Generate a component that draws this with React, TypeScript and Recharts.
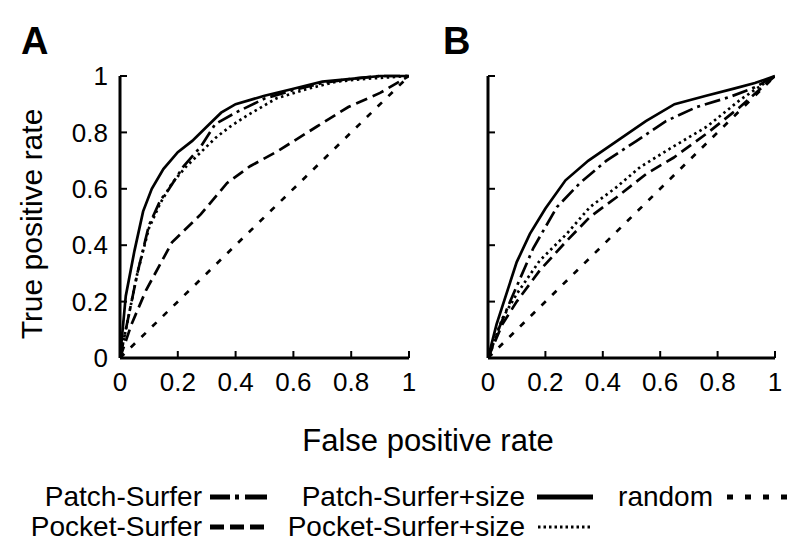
import React from "react";
import { LineChart, Line, XAxis, YAxis } from "recharts";

// ---------- data ----------
const ticks = [0, 0.2, 0.4, 0.6, 0.8, 1];
const tickLabels = ["0", "0.2", "0.4", "0.6", "0.8", "1"];

// Panel A
const aPatchFpr = [0, 0.03, 0.06, 0.1, 0.14, 0.17, 0.22, 0.28, 0.33, 0.4, 0.5, 0.6, 0.7, 0.8, 0.9, 1];
const aPatchTpr = [0, 0.15, 0.3, 0.47, 0.56, 0.6, 0.68, 0.75, 0.83, 0.87, 0.92, 0.95, 0.975, 0.99, 1, 1];
const aPatchSizeFpr = [0, 0.02, 0.05, 0.08, 0.11, 0.15, 0.2, 0.25, 0.3, 0.35, 0.4, 0.5, 0.6, 0.7, 0.8, 0.9, 1];
const aPatchSizeTpr = [0, 0.22, 0.38, 0.52, 0.6, 0.67, 0.73, 0.77, 0.82, 0.87, 0.9, 0.93, 0.955, 0.98, 0.99, 1, 1];
const aPocketFpr = [0, 0.04, 0.09, 0.18, 0.28, 0.37, 0.45, 0.54, 0.68, 0.79, 0.9, 1];
const aPocketTpr = [0, 0.12, 0.24, 0.41, 0.51, 0.62, 0.68, 0.73, 0.82, 0.89, 0.94, 1];
const aPocketSizeFpr = [0, 0.03, 0.06, 0.1, 0.14, 0.18, 0.23, 0.28, 0.33, 0.38, 0.44, 0.54, 0.65, 0.75, 0.85, 1];
const aPocketSizeTpr = [0, 0.15, 0.3, 0.46, 0.55, 0.62, 0.68, 0.73, 0.78, 0.82, 0.86, 0.92, 0.955, 0.98, 0.99, 1];

// Panel B
const bPatchFpr = [0, 0.04, 0.077, 0.158, 0.24, 0.32, 0.413, 0.518, 0.62, 0.727, 0.843, 0.93, 1];
const bPatchTpr = [0, 0.11, 0.2, 0.39, 0.535, 0.62, 0.7, 0.77, 0.84, 0.89, 0.926, 0.96, 1];
const bPatchSizeFpr = [0, 0.03, 0.065, 0.1, 0.146, 0.2, 0.27, 0.35, 0.45, 0.55, 0.65, 0.76, 0.86, 0.93, 1];
const bPatchSizeTpr = [0, 0.12, 0.23, 0.34, 0.44, 0.53, 0.63, 0.7, 0.77, 0.84, 0.9, 0.93, 0.956, 0.975, 1];
const bPocketFpr = [0, 0.05, 0.1, 0.18, 0.274, 0.355, 0.448, 0.553, 0.646, 0.762, 0.878, 1];
const bPocketTpr = [0, 0.12, 0.2, 0.31, 0.415, 0.5, 0.57, 0.654, 0.71, 0.796, 0.89, 1];
const bPocketSizeFpr = [0, 0.05, 0.1, 0.18, 0.274, 0.355, 0.448, 0.53, 0.646, 0.762, 0.878, 1];
const bPocketSizeTpr = [0, 0.14, 0.227, 0.345, 0.44, 0.535, 0.606, 0.677, 0.75, 0.82, 0.915, 1];

const randomFpr = [0, 1];
const randomTpr = [0, 1];

const seriesNames = ["Patch-Surfer", "Pocket-Surfer", "Patch-Surfer+size", "Pocket-Surfer+size", "random"];
const panelLabels = ["A", "B"];
const xTitle = "False positive rate";
const yTitle = "True positive rate";

// ---------- styles ----------
const FONT = '"Liberation Sans", Arial, Helvetica, sans-serif';
const chartDash: Record<string, string | undefined> = {
  "Patch-Surfer": "16 5 3 5",
  "Pocket-Surfer": "12 6",
  "Patch-Surfer+size": undefined,
  "Pocket-Surfer+size": "2.5 3.5",
  random: "6 9",
};
const legendDash: Record<string, string | undefined> = {
  "Patch-Surfer": "20 5 4 6 22",
  "Pocket-Surfer": "14 6",
  "Patch-Surfer+size": undefined,
  "Pocket-Surfer+size": "2.5 3",
  random: "6 12",
};

const zip = (f: number[], t: number[]) => f.map((v, i) => ({ fpr: v, tpr: t[i] }));

type Panel = {
  plotLeft: number;
  plotRight: number;
  showYLabels: boolean;
  series: { name: string; data: { fpr: number; tpr: number }[] }[];
};

const PLOT_TOP = 76;
const PLOT_BOTTOM = 358;
const CH_H = 420;

const panels: Panel[] = [
  {
    plotLeft: 120,
    plotRight: 409,
    showYLabels: true,
    series: [
      { name: "random", data: zip(randomFpr, randomTpr) },
      { name: "Pocket-Surfer", data: zip(aPocketFpr, aPocketTpr) },
      { name: "Pocket-Surfer+size", data: zip(aPocketSizeFpr, aPocketSizeTpr) },
      { name: "Patch-Surfer", data: zip(aPatchFpr, aPatchTpr) },
      { name: "Patch-Surfer+size", data: zip(aPatchSizeFpr, aPatchSizeTpr) },
    ],
  },
  {
    plotLeft: 488,
    plotRight: 775,
    showYLabels: false,
    series: [
      { name: "random", data: zip(randomFpr, randomTpr) },
      { name: "Pocket-Surfer", data: zip(bPocketFpr, bPocketTpr) },
      { name: "Pocket-Surfer+size", data: zip(bPocketSizeFpr, bPocketSizeTpr) },
      { name: "Patch-Surfer", data: zip(bPatchFpr, bPatchTpr) },
      { name: "Patch-Surfer+size", data: zip(bPatchSizeFpr, bPatchSizeTpr) },
    ],
  },
];

const fmt = (v: number) => tickLabels[ticks.indexOf(v)] ?? String(v);
const NoTick = () => null;
const axisLine = { stroke: "#000", strokeWidth: 3 };
const tickLine = { stroke: "#000", strokeWidth: 2 };
const tickStyle = { fontSize: 26, fill: "#000", fontFamily: FONT };

function PanelChart({ p }: { p: Panel }) {
  return (
    <div style={{ position: "absolute", left: 0, top: 0 }}>
      <LineChart
        width={788}
        height={CH_H}
        margin={{ top: PLOT_TOP, right: 788 - p.plotRight, bottom: 0, left: 0 }}
      >
        <XAxis
          type="number"
          dataKey="fpr"
          domain={[0, 1]}
          ticks={ticks}
          tickFormatter={fmt}
          allowDataOverflow
          height={CH_H - PLOT_BOTTOM}
          tickSize={-7}
          tickMargin={22}
          axisLine={axisLine}
          tickLine={tickLine}
          tick={tickStyle}
          interval={0}
        />
        <XAxis
          xAxisId="top"
          orientation="top"
          type="number"
          dataKey="fpr"
          domain={[0, 1]}
          ticks={ticks}
          height={0}
          tickSize={-7}
          axisLine={axisLine}
          tickLine={tickLine}
          tick={NoTick}
          interval={0}
        />
        <YAxis
          type="number"
          domain={[0, 1]}
          ticks={ticks}
          tickFormatter={fmt}
          width={p.plotLeft}
          tickSize={-7}
          tickMargin={19}
          axisLine={axisLine}
          tickLine={tickLine}
          tick={p.showYLabels ? tickStyle : NoTick}
          interval={0}
        />
        <YAxis
          yAxisId="right"
          orientation="right"
          type="number"
          domain={[0, 1]}
          ticks={ticks}
          width={0}
          tickSize={-7}
          axisLine={axisLine}
          tickLine={tickLine}
          tick={NoTick}
          interval={0}
        />
        {p.series.map((s) => (
          <Line
            key={s.name}
            data={s.data}
            dataKey="tpr"
            type="linear"
            stroke="#000"
            strokeWidth={2.7}
            strokeDasharray={chartDash[s.name]}
            dot={false}
            activeDot={false}
            isAnimationActive={false}
          />
        ))}
      </LineChart>
    </div>
  );
}

const legendRows = [
  [
    { name: seriesNames[0], textEnd: 202, x1: 210, x2: 267 },
    { name: seriesNames[2], textEnd: 525, x1: 537, x2: 593 },
    { name: seriesNames[4], textEnd: 713, x1: 727, x2: 788 },
  ],
  [
    { name: seriesNames[1], textEnd: 202, x1: 210, x2: 267 },
    { name: seriesNames[3], textEnd: 525, x1: 538, x2: 592 },
  ],
];
const legendBaselines = [506, 536];

export default function App() {
  return (
    <div
      style={{
        position: "absolute",
        left: 0,
        top: 0,
        width: 788,
        height: 542,
        background: "#fff",
        overflow: "hidden",
        fontFamily: FONT,
      }}
    >
      {panels.map((p, i) => (
        <PanelChart key={i} p={p} />
      ))}
      <svg
        width={788}
        height={542}
        style={{ position: "absolute", left: 0, top: 0, pointerEvents: "none" }}
        fontFamily={FONT}
      >
        <text x={21} y={54} fontSize={38} fontWeight="bold" fill="#000">
          {panelLabels[0]}
        </text>
        <text x={443} y={54} fontSize={38} fontWeight="bold" fill="#000">
          {panelLabels[1]}
        </text>
        <text x={428} y={451} fontSize={31} textAnchor="middle" fill="#000">
          {xTitle}
        </text>
        <text
          x={0}
          y={0}
          fontSize={30}
          textAnchor="middle"
          fill="#000"
          transform="translate(42,224) rotate(-90)"
        >
          {yTitle}
        </text>
        {legendRows.map((row, r) =>
          row.map((it) => {
            const by = legendBaselines[r];
            const ly = by - 9;
            return (
              <g key={it.name}>
                <text x={it.textEnd} y={by} fontSize={28} textAnchor="end" fill="#000">
                  {it.name}
                </text>
                <line
                  x1={it.x1}
                  x2={it.x2}
                  y1={ly}
                  y2={ly}
                  stroke="#000"
                  strokeWidth={it.name === "Pocket-Surfer+size" ? 3 : 5}
                  strokeDasharray={legendDash[it.name]}
                />
              </g>
            );
          })
        )}
      </svg>
    </div>
  );
}
